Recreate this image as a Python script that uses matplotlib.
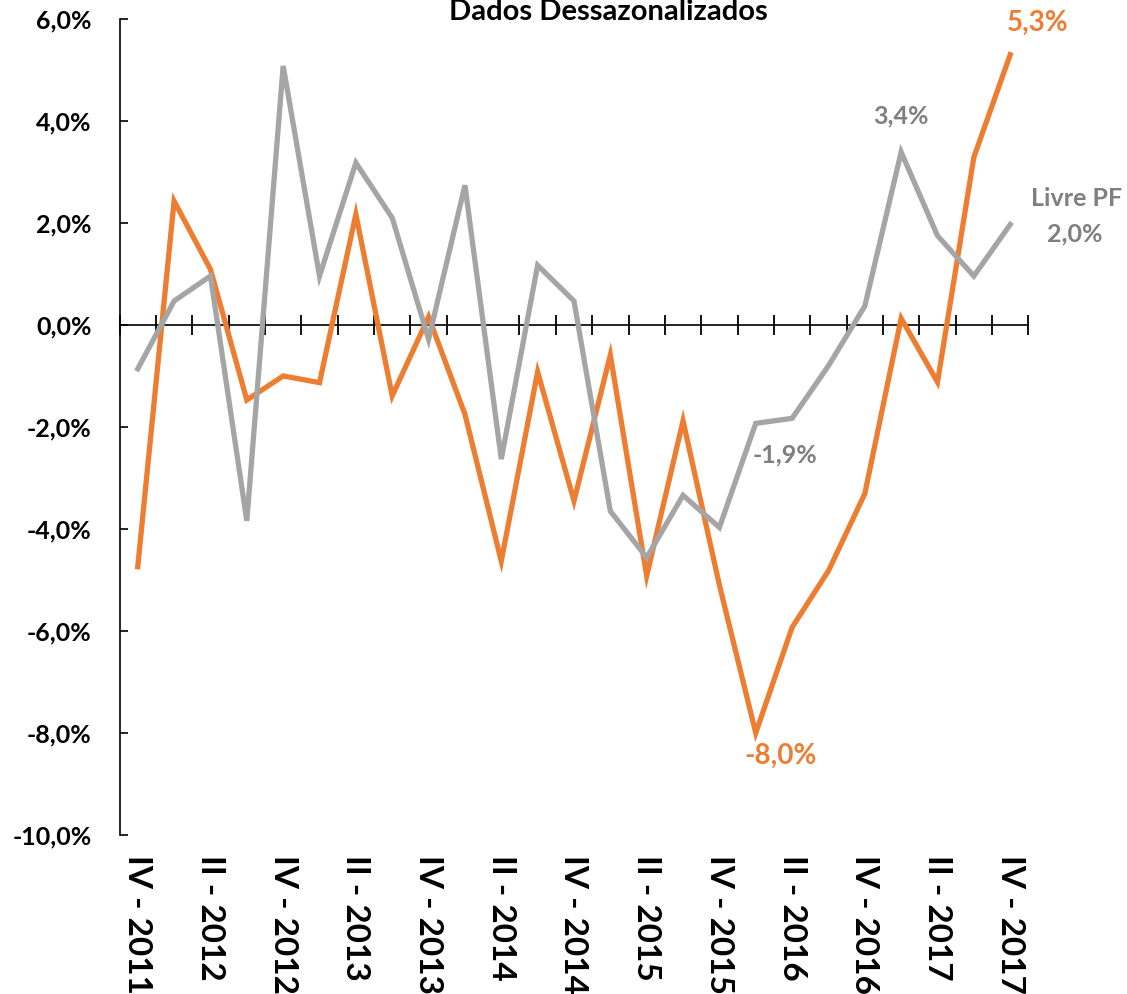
import numpy as np
import matplotlib.pyplot as plt

plt.rcParams['font.family'] = ['Lato', 'DejaVu Sans']
plt.rcParams['font.weight'] = 'bold'

# trimestres IV-2011 .. IV-2017
quarters = ['IV - 2011', 'I - 2012', 'II - 2012', 'III - 2012', 'IV - 2012',
            'I - 2013', 'II - 2013', 'III - 2013', 'IV - 2013',
            'I - 2014', 'II - 2014', 'III - 2014', 'IV - 2014',
            'I - 2015', 'II - 2015', 'III - 2015', 'IV - 2015',
            'I - 2016', 'II - 2016', 'III - 2016', 'IV - 2016',
            'I - 2017', 'II - 2017', 'III - 2017', 'IV - 2017']

orange = [-4.74, 2.43, 1.09, -1.47, -1.00, -1.13, 2.17, -1.39, 0.16, -1.75,
          -4.63, -0.92, -3.45, -0.59, -4.92, -1.88, -5.10, -8.00, -5.93, -4.82,
          -3.31, 0.13, -1.12, 3.29, 5.30]
gray = [-0.86, 0.47, 0.96, -3.84, 5.08, 0.96, 3.18, 2.10, -0.28, 2.74,
        -2.63, 1.17, 0.47, -3.65, -4.56, -3.34, -3.97, -1.93, -1.83, -0.80,
        0.37, 3.39, 1.75, 0.96, 1.97]

yticks = [6, 4, 2, 0, -2, -4, -6, -8, -10]
ytick_labels = ['6,0%', '4,0%', '2,0%', '0,0%', '-2,0%', '-4,0%', '-6,0%', '-8,0%', '-10,0%']

c_orange = '#ed7d31'
c_gray = '#a5a5a5'
c_gray_txt = '#7f7f7f'

fig = plt.figure(figsize=(11.27, 9.94), dpi=100)
ax = fig.add_axes([0.1061, 0.160, 0.8064, 0.8209])

x = np.arange(len(quarters))
ax.plot(x, orange, color=c_orange, lw=3.8, solid_joinstyle='miter', zorder=3)
ax.plot(x, gray, color=c_gray, lw=3.8, solid_joinstyle='miter', zorder=3)

ax.set_xlim(-0.5, len(quarters) - 0.5)
ax.set_ylim(-10, 6)

# eixos
ax.spines['top'].set_visible(False)
ax.spines['right'].set_visible(False)
ax.spines['bottom'].set_position(('data', 0))
ax.spines['bottom'].set_linewidth(1.2)
ax.spines['left'].set_linewidth(1.2)
ax.spines['bottom'].set_zorder(2)

ax.set_xticks(np.arange(-0.5, len(quarters), 1.0))
ax.tick_params(axis='x', direction='inout', length=15, width=1.3, labelbottom=False)
ax.set_yticks(yticks)
ax.set_yticklabels(ytick_labels, fontsize=18, fontweight='bold')
ax.tick_params(axis='y', direction='in', length=6, width=1.2, pad=20)

# rotulos do eixo x (a cada 2 trimestres)
for i in range(0, len(quarters), 2):
    ax.text(i, -0.025, quarters[i], transform=ax.get_xaxis_transform(),
            rotation=270, ha='center', va='top', fontsize=24, fontweight='bold',
            clip_on=False)

fig.text(0.540, 0.980, 'Dados Dessazonalizados', ha='center', va='baseline',
         fontsize=21, fontweight='bold')

# rotulos de dados
def lab(txt, xi, yv, dx, dy, color, size):
    ax.annotate(txt, (xi, yv), xytext=(dx * 0.72, dy * 0.72), textcoords='offset points',
                ha='center', va='center', color=color, fontsize=size, fontweight='bold',
                annotation_clip=False)

lab('5,3%', 24, orange[24], 27, 32, c_orange, 20)
lab('-8,0%', 17, orange[17], 25, -23, c_orange, 20)
lab('3,4%', 21, gray[21], 0, 36, c_gray_txt, 18)
lab('-1,9%', 17, gray[17], 29, -32, c_gray_txt, 18)
lab('Livre PF', 24, gray[24], 66, 26, c_gray_txt, 18)
lab('2,0%', 24, gray[24], 65, -9, c_gray_txt, 18)

fig.savefig('out.png', dpi=100)
